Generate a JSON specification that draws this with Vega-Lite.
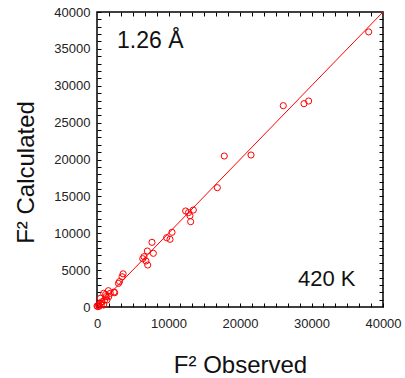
{
  "$schema": "https://vega.github.io/schema/vega-lite/v6.json",
  "width": 286,
  "height": 295,
  "autosize": {"type": "none"},
  "padding": {"left": 97, "top": 12, "right": 22, "bottom": 71},
  "config": {
    "view": {"stroke": "black", "strokeWidth": 1.5},
    "font": "Liberation Sans",
    "axis": {
      "grid": false,
      "domain": false,
      "labelFont": "Liberation Sans",
      "labelFontSize": 13,
      "labelColor": "#222",
      "titleFont": "Liberation Sans",
      "titleFontWeight": "normal",
      "titleFontSize": 24,
      "titleColor": "#111"
    }
  },
  "datasets": {
    "points": [
      {"observed": 38000, "calculated": 37300},
      {"observed": 26050, "calculated": 27300},
      {"observed": 28950, "calculated": 27570},
      {"observed": 29600, "calculated": 27930},
      {"observed": 17800, "calculated": 20470},
      {"observed": 21540, "calculated": 20610},
      {"observed": 16830, "calculated": 16180},
      {"observed": 12400, "calculated": 13020},
      {"observed": 13470, "calculated": 13150},
      {"observed": 12800, "calculated": 12800},
      {"observed": 13000, "calculated": 12380},
      {"observed": 13100, "calculated": 11570},
      {"observed": 10490, "calculated": 10130},
      {"observed": 9740, "calculated": 9400},
      {"observed": 10210, "calculated": 9180},
      {"observed": 7690, "calculated": 8770},
      {"observed": 7040, "calculated": 7590},
      {"observed": 7880, "calculated": 7280},
      {"observed": 6570, "calculated": 6820},
      {"observed": 6850, "calculated": 6240},
      {"observed": 7090, "calculated": 5690},
      {"observed": 6400, "calculated": 6550},
      {"observed": 3650, "calculated": 4500},
      {"observed": 3500, "calculated": 4100},
      {"observed": 3150, "calculated": 3450},
      {"observed": 3000, "calculated": 3200},
      {"observed": 2470, "calculated": 1940},
      {"observed": 1860, "calculated": 1860},
      {"observed": 2380, "calculated": 2030},
      {"observed": 1590, "calculated": 2210},
      {"observed": 1630, "calculated": 1400},
      {"observed": 1260, "calculated": 1400},
      {"observed": 1070, "calculated": 950},
      {"observed": 700, "calculated": 720},
      {"observed": 470, "calculated": 500},
      {"observed": 230, "calculated": 270},
      {"observed": 0, "calculated": 140},
      {"observed": 940, "calculated": 270},
      {"observed": 1400, "calculated": 950},
      {"observed": 470, "calculated": 1180},
      {"observed": 930, "calculated": 1860},
      {"observed": 100, "calculated": 50},
      {"observed": 300, "calculated": 100},
      {"observed": 600, "calculated": 300},
      {"observed": 1200, "calculated": 1700}
    ],
    "fit": [
      {"observed": 0, "calculated": 0},
      {"observed": 40000, "calculated": 40000}
    ],
    "notes": [
      {"observed": 2800, "calculated": 35080, "label": "1.26 Å", "size": 23},
      {"observed": 28110, "calculated": 2850, "label": "420 K", "size": 22}
    ]
  },
  "resolve": {"axis": {"x": "independent", "y": "independent"}},
  "layer": [
    {
      "data": {"name": "points"},
      "mark": {"type": "point", "shape": "circle", "filled": false, "stroke": "#ff0000", "size": 38, "strokeWidth": 1, "opacity": 1},
      "encoding": {
        "x": {
          "field": "observed", "type": "quantitative",
          "scale": {"domain": [0, 40000], "nice": false, "zero": false},
          "axis": {"orient": "bottom", "values": [0, 1666.67, 3333.33, 5000, 6666.67, 8333.33, 10000, 11666.67, 13333.33, 15000, 16666.67, 18333.33, 20000, 21666.67, 23333.33, 25000, 26666.67, 28333.33, 30000, 31666.67, 33333.33, 35000, 36666.67, 38333.33, 40000],
                   "tickSize": -4, "tickColor": "black", "tickWidth": 1, "tickOpacity": 1, "labelPadding": 14, "format": "d", "labelFlush": false, "labelOverlap": false, "labelBound": false,
                   "labelExpr": "datum.value % 10000 === 0 ? datum.label : ''",
                   "title": "F² Observed", "titleY": 65, "titleBaseline": "alphabetic"}
        },
        "y": {
          "field": "calculated", "type": "quantitative",
          "scale": {"domain": [0, 40000], "nice": false, "zero": false},
          "axis": {"orient": "left", "values": [0, 1000, 2000, 3000, 4000, 5000, 6000, 7000, 8000, 9000, 10000, 11000, 12000, 13000, 14000, 15000, 16000, 17000, 18000, 19000, 20000, 21000, 22000, 23000, 24000, 25000, 26000, 27000, 28000, 29000, 30000, 31000, 32000, 33000, 34000, 35000, 36000, 37000, 38000, 39000, 40000],
                   "tickSize": -4, "tickColor": "black", "tickWidth": 1, "tickOpacity": 1, "labelPadding": 11, "format": "d", "labelFlush": false, "labelOverlap": false, "labelBound": false,
                   "labelExpr": "datum.value % 5000 === 0 ? datum.label : ''",
                   "title": "F² Calculated", "titleX": -64, "titleY": 160, "titleAngle": -90, "titleAlign": "center", "titleBaseline": "alphabetic"}
        }
      }
    },
    {
      "data": {"name": "fit"},
      "mark": {"type": "line", "stroke": "#ff0000", "strokeWidth": 1},
      "encoding": {
        "x": {"field": "observed", "type": "quantitative",
              "axis": {"orient": "top", "values": [1666.67, 3333.33, 5000, 6666.67, 8333.33, 10000, 11666.67, 13333.33, 15000, 16666.67, 18333.33, 20000, 21666.67, 23333.33, 25000, 26666.67, 28333.33, 30000, 31666.67, 33333.33, 35000, 36666.67, 38333.33], "tickSize": -4, "tickColor": "black", "tickWidth": 1, "tickOpacity": 1, "labels": false, "title": null}},
        "y": {"field": "calculated", "type": "quantitative",
              "axis": {"orient": "right", "values": [1000, 2000, 3000, 4000, 5000, 6000, 7000, 8000, 9000, 10000, 11000, 12000, 13000, 14000, 15000, 16000, 17000, 18000, 19000, 20000, 21000, 22000, 23000, 24000, 25000, 26000, 27000, 28000, 29000, 30000, 31000, 32000, 33000, 34000, 35000, 36000, 37000, 38000, 39000], "tickSize": -4, "tickColor": "black", "tickWidth": 1, "tickOpacity": 1, "labels": false, "title": null}}
      }
    },
    {
      "data": {"name": "notes"},
      "mark": {"type": "text", "align": "left", "baseline": "alphabetic", "font": "Liberation Sans", "color": "#111"},
      "encoding": {
        "x": {"field": "observed", "type": "quantitative", "axis": null},
        "y": {"field": "calculated", "type": "quantitative", "axis": null},
        "text": {"field": "label"},
        "size": {"field": "size", "type": "quantitative", "scale": null}
      }
    }
  ]
}
